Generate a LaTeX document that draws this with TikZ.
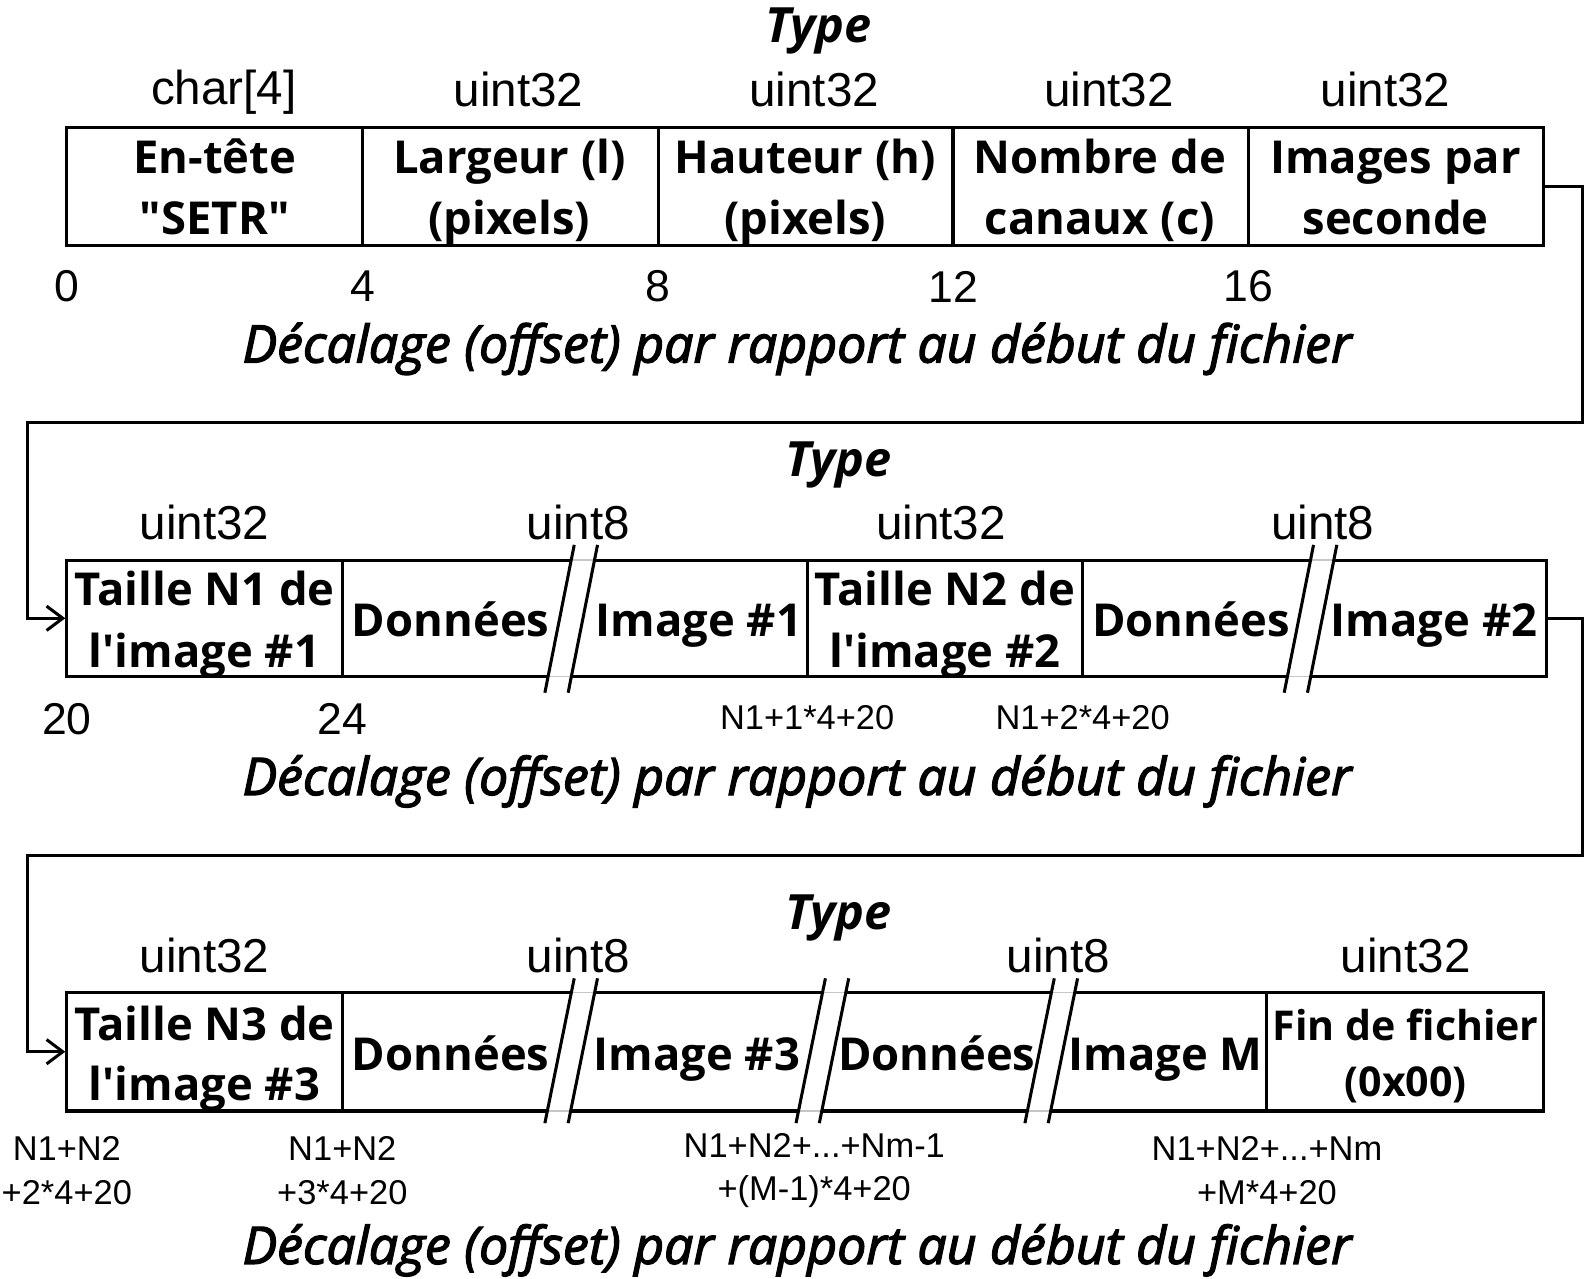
\documentclass[tikz,border=0pt]{standalone}
\usepackage{fontspec}
\setmainfont{Liberation Sans}
\newfontfamily\lblfont[Ligatures=TeXOff]{Open Sans}
\newfontfamily\capfont[Ligatures=TeXOff,FakeBold=2.5]{Open Sans}
\usetikzlibrary{arrows.meta,fit,calc}
\begin{document}
\begin{tikzpicture}[x=0.5pt,y=-0.5pt,
  cellbox/.style={draw,line width=1.5pt,inner sep=0pt},
  celltext/.style={inner sep=0pt,anchor=base,
    font=\lblfont\bfseries\fontsize{22.4}{30}\selectfont},
  smalltext/.style={inner sep=0pt,anchor=base,
    font=\lblfont\bfseries\fontsize{20.3}{26}\selectfont},
  typelbl/.style={inner sep=0pt,font=\fontsize{23.5}{28}\selectfont},
  typehead/.style={inner sep=0pt,font=\lblfont\bfseries\itshape\fontsize{24}{28}\selectfont},
  offs/.style={inner sep=0pt,font=\fontsize{22}{26}\selectfont},
  offsmall/.style={inner sep=0pt,align=center,font=\fontsize{17}{21.5}\selectfont},
  caption/.style={inner sep=0pt,anchor=base,font=\capfont\itshape\fontsize{25.6}{30}\selectfont},
  link/.style={line width=1.5pt},
  tip/.style={-{Straight Barb[length=8pt,width=12pt,line width=1.5pt]}}]
\useasboundingbox (0,0) rectangle (1568,1262);

% break mark across a cell: top x of the first stroke, stroke ends, cell top/bottom
\newcommand\cutmark[5]{%
  \fill[white] (#1,#2) -- (#1+23,#2) -- (#1-6,#3) -- (#1-29,#3) -- cycle;
  \begin{scope}
    \clip (#1,#2) -- (#1+23,#2) -- (#1-6,#3) -- (#1-29,#3) -- cycle;
    \draw[gray!45,line width=0.6pt] (#1-60,#4) -- (#1+60,#4) (#1-60,#5) -- (#1+60,#5);
  \end{scope}
  \draw[line width=1.5pt] (#1,#2) -- (#1-29,#3) (#1+23,#2) -- (#1-6,#3);}

% ---------------- file header ----------------
\node[typehead] (ty1) at (808,31) {Type};
\node[typelbl] (k1) at (221,91) {char[4]};
\node[typelbl] (k2) at (512,88) {uint32};
\node[typelbl] (k3) at (804,88) {uint32};
\node[typelbl] (k4) at (1095,88) {uint32};
\node[typelbl] (k5) at (1368,88) {uint32};

\node[cellbox,fit={(66,126)(358,242)}] (h1) {};
\node[cellbox,fit={(358,126)(650,242)}] (h2) {};
\node[cellbox,fit={(650,126)(941,242)}] (h3) {};
\node[cellbox,fit={(941,126)(1233,242)}] (h4) {};
\node[cellbox,fit={(1233,126)(1524,242)}] (h5) {};
\node[celltext] (h1a) at (212,171) {En-tête};
\node[celltext] (h1b) at (212,232) {"SETR"};
\node[celltext] (h2a) at (503,171) {Largeur (l)};
\node[celltext] (h2b) at (503,232) {(pixels)};
\node[celltext] (h3a) at (795,171) {Hauteur (h)};
\node[celltext] (h3b) at (795,232) {(pixels)};
\node[celltext] (h4a) at (1086,171) {Nombre de};
\node[celltext] (h4b) at (1086,232) {canaux (c)};
\node[celltext] (h5a) at (1378,171) {Images par};
\node[celltext] (h5b) at (1378,232) {seconde};

\node[offs] (o0) at (66,283) {0};
\node[offs] (o4) at (358,283) {4};
\node[offs] (o8) at (650,283) {8};
\node[offs] (o12) at (941,283) {12};
\node[offs] (o16) at (1233,283) {16};
\node[caption] (c1) at (787,358) {Décalage (offset) par rapport au début du fichier};

% ---------------- images 1 and 2 ----------------
\node[typehead] (ty2) at (828,459) {Type};
\node[typelbl] (k6) at (202,516) {uint32};
\node[typelbl] (k7) at (571,516) {uint8};
\node[typelbl] (k8) at (929,516) {uint32};
\node[typelbl] (k9) at (1306,516) {uint8};

\node[cellbox,fit={(66,553)(338,668)}] (a1) {};
\node[cellbox,fit={(338,553)(797,668)}] (a2) {};
\node[cellbox,fit={(797,553)(1069,668)}] (a3) {};
\node[cellbox,fit={(1069,553)(1527,668)}] (a4) {};
\cutmark{567}{538}{684}{553}{668}
\cutmark{1297}{538}{684}{553}{668}
\node[celltext] (a1a) at (202,598) {Taille N1 de};
\node[celltext] (a1b) at (202,659) {l'image \#1};
\node[celltext] (a2l) at (445,628) {Données};
\node[celltext] (a2r) at (690,628) {Image \#1};
\node[celltext] (a3a) at (933,598) {Taille N2 de};
\node[celltext] (a3b) at (933,659) {l'image \#2};
\node[celltext] (a4l) at (1176,628) {Données};
\node[celltext] (a4r) at (1416,628) {Image \#2};

\node[offs] (o20) at (66,710) {20};
\node[offs] (o24) at (338,710) {24};
\node[offsmall] (oa) at (797,709) {N1+1*4+20};
\node[offsmall] (ob) at (1069,709) {N1+2*4+20};
\node[caption] (c2) at (787,785) {Décalage (offset) par rapport au début du fichier};

% ---------------- image 3 to end of file ----------------
\node[typehead] (ty3) at (828,906) {Type};
\node[typelbl] (k10) at (202,943) {uint32};
\node[typelbl] (k11) at (571,943) {uint8};
\node[typelbl] (k12) at (1045,943) {uint8};
\node[typelbl] (k13) at (1388,943) {uint32};

\node[cellbox,fit={(66,980)(338,1097)}] (b1) {};
\node[cellbox,fit={(338,980)(1251,1097)}] (b2) {};
\node[cellbox,fit={(1251,980)(1524,1097)}] (b3) {};
\cutmark{567}{966}{1109}{980}{1097}
\cutmark{815}{966}{1109}{980}{1097}
\cutmark{1041}{966}{1109}{980}{1097}
\node[celltext] (b1a) at (202,1027) {Taille N3 de};
\node[celltext] (b1b) at (202,1087) {l'image \#3};
\node[celltext] (b2a) at (445,1057) {Données};
\node[celltext] (b2b) at (688,1057) {Image \#3};
\node[celltext] (b2c) at (925,1057) {Données};
\node[celltext] (b2d) at (1151,1057) {Image M};
\node[smalltext] (b3a) at (1388,1027) {Fin de fichier};
\node[smalltext] (b3b) at (1388,1083) {(0x00)};

\node[offsmall] (oc) at (66,1156) {N1+N2\\+2*4+20};
\node[offsmall] (od) at (338,1156) {N1+N2\\+3*4+20};
\node[offsmall] (oe) at (804,1156) {N1+N2+...+Nm-1\\+(M-1)*4+20};
\node[offsmall] (of) at (1251,1156) {N1+N2+...+Nm\\+M*4+20};
\node[caption] (c3) at (787,1248) {Décalage (offset) par rapport au début du fichier};

% ---------------- row-to-row links ----------------
\coordinate (r1) at (1563,417);
\coordinate (l1) at (27,417);
\coordinate (r2) at (1563,845);
\coordinate (l2) at (27,845);
\draw[link,tip] (h5.east) -| (r1) -- (l1) |- (a1.west);
\draw[link,tip] (a4.east) -| (r2) -- (l2) |- (b1.west);
\end{tikzpicture}
\end{document}
